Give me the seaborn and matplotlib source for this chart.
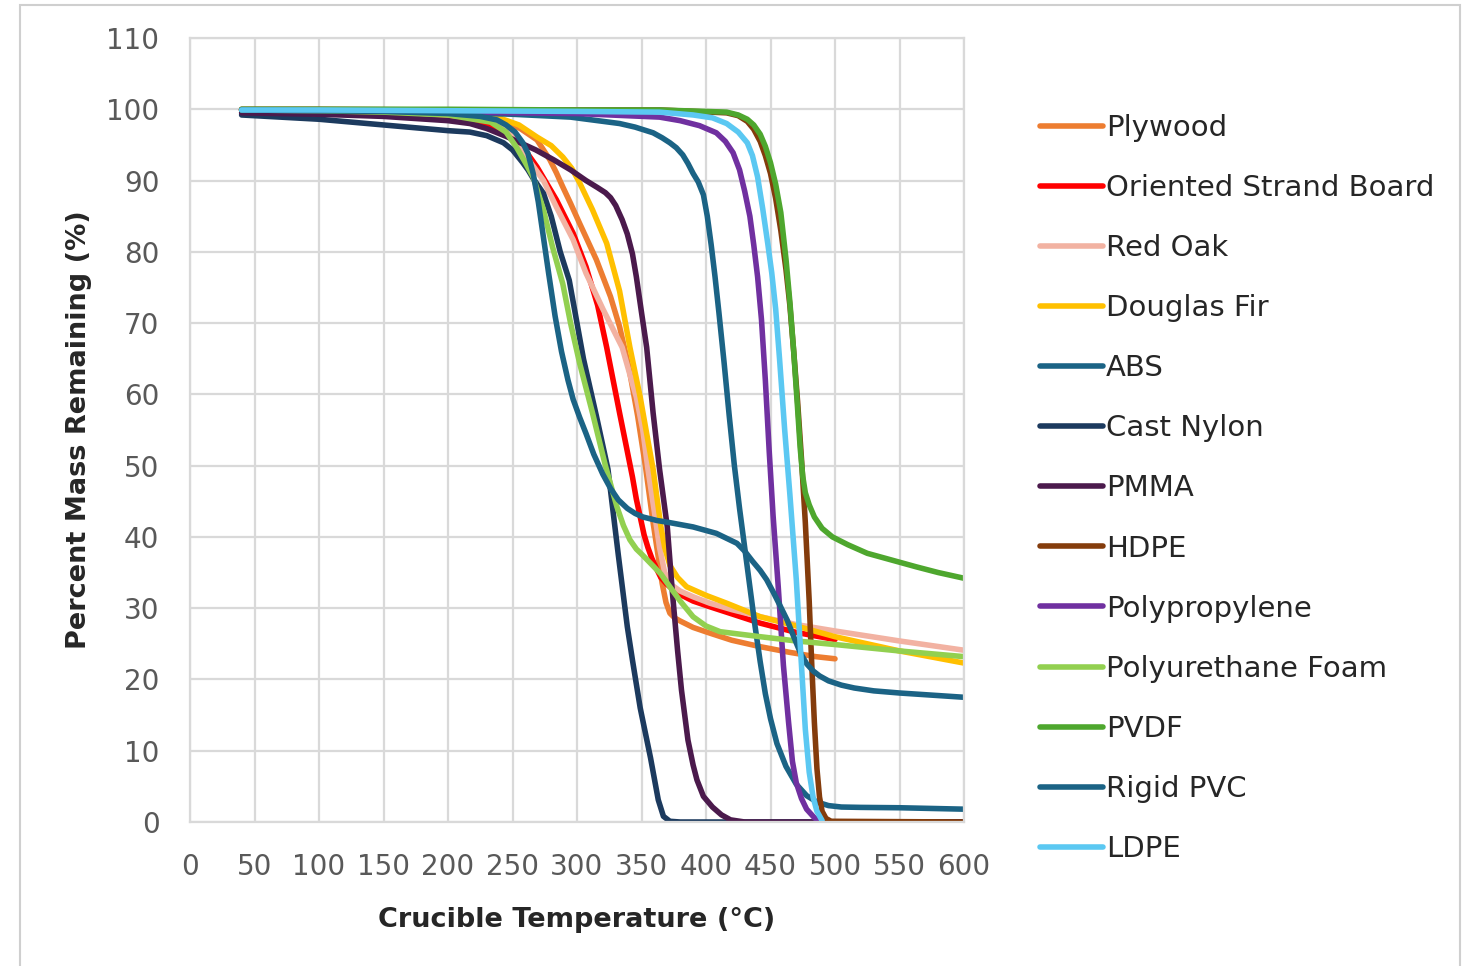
import pandas as pd
import matplotlib
matplotlib.use("Agg")
import matplotlib.pyplot as plt
import seaborn as sns
from matplotlib.patches import Rectangle

# Series names (legend order) and colours
names = ["Plywood", "Oriented Strand Board", "Red Oak", "Douglas Fir", "ABS",
         "Cast Nylon", "PMMA", "HDPE", "Polypropylene", "Polyurethane Foam",
         "PVDF", "Rigid PVC", "LDPE"]
colors = ["#ED7D31", "#FF0000", "#F2B2A2", "#FFC000", "#1B6385",
          "#1C3A5E", "#4B1A4C", "#843C0C", "#7030A0", "#92D050",
          "#4EA72E", "#1B6385", "#5BC8F2"]

# Values (temperature degC, mass remaining %)
plywood_t = [40, 100, 150, 200, 230, 243, 256, 269, 279, 284, 289, 295, 302, 315, 326, 333, 340, 347, 353, 359, 364, 366, 369, 372, 376, 380, 390, 403, 420, 442, 465, 485, 500]
plywood_v = [99.9, 99.8, 99.6, 99.2, 98.8, 98.3, 97.3, 95.7, 92.9, 91.1, 89.1, 86.8, 84.0, 78.9, 73.7, 69.5, 64.0, 57.0, 50.0, 42.0, 36.0, 33.5, 30.8, 29.3, 28.6, 28.2, 27.3, 26.5, 25.5, 24.6, 23.8, 23.2, 22.9]

osb_t = [40, 100, 150, 200, 230, 245, 258, 269, 284, 297, 307, 316, 323, 333, 343, 346, 349, 352, 355, 358, 362, 365, 370, 378, 390, 403, 420, 442, 470, 500]
osb_v = [99.9, 99.8, 99.5, 99.0, 98.0, 96.8, 94.7, 91.9, 87.3, 82.6, 77.9, 72.5, 66.6, 57.4, 48.4, 45.3, 42.8, 40.3, 38.5, 37.0, 35.4, 34.3, 33.3, 32.1, 31.0, 30.2, 29.2, 27.9, 26.6, 25.6]

oak_t = [40, 100, 150, 200, 233, 248, 261, 274, 284, 297, 307, 320, 335, 346, 351, 355, 360, 364, 368, 373, 380, 390, 403, 420, 442, 470, 500, 550, 600]
oak_v = [99.9, 99.8, 99.6, 99.2, 98.5, 96.5, 93.3, 90.0, 86.3, 81.7, 77.0, 72.0, 66.6, 59.6, 55.0, 49.5, 43.5, 38.5, 35.0, 33.3, 32.4, 31.6, 30.7, 29.8, 28.8, 27.7, 26.8, 25.4, 24.1]

fir_t = [40, 100, 150, 200, 225, 238, 255, 269, 280, 289, 296, 302, 312, 323, 333, 341, 349, 355, 359, 362, 365, 368, 372, 378, 385, 400, 416, 442, 470, 500, 550, 600]
fir_v = [99.9, 99.8, 99.7, 99.4, 99.1, 98.9, 97.8, 96.1, 94.9, 93.3, 91.7, 89.7, 85.9, 81.2, 74.5, 66.6, 59.6, 53.5, 49.5, 45.5, 41.5, 38.5, 36.0, 34.3, 33.0, 31.8, 30.7, 28.8, 27.5, 26.0, 24.0, 22.3]

abs_t = [40, 100, 150, 200, 250, 295, 333, 345, 359, 366, 372, 377, 382, 386, 390, 394, 398, 401, 404, 407, 410, 414, 418, 422, 426, 430, 434, 438, 442, 446, 450, 455, 462, 470, 478, 486, 495, 505, 520, 550, 600]
abs_v = [99.9, 99.8, 99.7, 99.6, 99.3, 98.9, 98.0, 97.5, 96.7, 96.0, 95.3, 94.6, 93.6, 92.4, 91.0, 89.8, 88.0, 85.0, 81.0, 76.5, 71.5, 64.5, 57.0, 50.0, 44.0, 38.5, 33.0, 27.5, 22.5, 18.0, 14.5, 11.0, 7.8, 5.3, 3.7, 2.8, 2.3, 2.1, 2.05, 2.0, 1.8]

nylon_t = [40, 100, 150, 200, 217, 230, 243, 250, 258, 262, 266, 274, 280, 287, 294, 305, 315, 324, 332, 339, 343, 349, 357, 363, 367, 372, 380, 600]
nylon_v = [99.2, 98.6, 97.8, 97.0, 96.8, 96.3, 95.3, 94.3, 92.5, 91.5, 90.3, 88.2, 85.0, 80.0, 76.0, 65.0, 57.0, 49.5, 37.5, 27.4, 22.7, 16.0, 9.0, 3.1, 0.8, 0.1, 0.0, 0.0]

pmma_t = [40, 100, 150, 200, 217, 230, 245, 256, 268, 282, 295, 307, 316, 322, 326, 330, 335, 339, 343, 346, 350, 354, 359, 364, 370, 374, 378, 381, 386, 390, 393, 398, 405, 412, 419, 430, 500, 600]
pmma_v = [99.5, 99.3, 99.0, 98.4, 98.0, 97.3, 96.2, 95.3, 94.3, 92.9, 91.5, 90.0, 89.0, 88.3, 87.6, 86.5, 84.5, 82.5, 79.7, 76.5, 71.5, 66.6, 57.4, 49.5, 41.4, 32.1, 24.0, 18.5, 11.5, 8.0, 5.9, 3.6, 2.1, 1.0, 0.3, 0.0, 0.0, 0.0]

hdpe_t = [40, 100, 200, 300, 364, 416, 425, 432, 437, 442, 446, 450, 454, 458, 462, 465, 468, 471, 474, 477, 480, 482, 484, 486, 488, 490, 493, 497, 600]
hdpe_v = [100.0, 100.0, 99.9, 99.9, 99.9, 99.5, 99.1, 98.3, 97.2, 95.5, 93.5, 91.0, 87.5, 83.0, 77.5, 72.5, 66.0, 59.0, 51.0, 42.0, 31.0, 22.0, 14.0, 7.5, 3.5, 1.5, 0.5, 0.1, 0.0]

pp_t = [40, 100, 200, 300, 364, 380, 395, 408, 415, 421, 426, 430, 434, 437, 440, 443, 446, 449, 452, 456, 460, 464, 467, 470, 474, 478, 484, 488]
pp_v = [99.9, 99.8, 99.6, 99.4, 98.9, 98.4, 97.7, 96.7, 95.5, 93.9, 91.5, 88.5, 85.0, 81.0, 76.5, 70.5, 62.0, 52.0, 43.0, 33.0, 22.0, 14.0, 8.5, 5.5, 3.3, 1.8, 0.6, 0.1]

puf_t = [40, 100, 150, 200, 233, 245, 253, 260, 266, 274, 281, 289, 295, 302, 312, 322, 331, 336, 341, 346, 350, 357, 365, 372, 380, 390, 400, 411, 442, 470, 500, 550, 600]
puf_v = [99.9, 99.8, 99.6, 99.2, 98.2, 96.8, 94.7, 92.5, 90.5, 85.9, 80.7, 75.5, 70.0, 64.4, 57.4, 50.0, 44.2, 41.6, 39.6, 38.3, 37.6, 36.3, 34.8, 33.0, 31.0, 28.8, 27.5, 26.7, 26.0, 25.4, 24.9, 24.0, 23.2]

pvdf_t = [40, 100, 200, 300, 364, 416, 425, 432, 437, 442, 446, 450, 454, 458, 462, 465, 468, 471, 473, 475, 477, 480, 484, 490, 498, 510, 525, 545, 563, 580, 600]
pvdf_v = [100.0, 100.0, 100.0, 99.9, 99.9, 99.6, 99.2, 98.6, 97.8, 96.5, 94.8, 92.5, 89.5, 85.5, 79.0, 73.0, 66.0, 58.0, 52.5, 48.5, 46.2, 44.5, 42.8, 41.2, 40.0, 38.9, 37.7, 36.7, 35.8, 35.0, 34.2]

pvc_t = [40, 100, 150, 200, 225, 238, 245, 252, 258, 262, 266, 270, 274, 278, 283, 288, 293, 297, 302, 307, 313, 320, 326, 332, 339, 345, 351, 362, 372, 390, 408, 424, 430, 436, 442, 447, 452, 457, 463, 468, 473, 478, 483, 488, 495, 505, 515, 530, 550, 575, 600]
pvc_v = [99.9, 99.8, 99.7, 99.4, 99.0, 98.5, 97.8, 96.8, 95.3, 93.8, 91.0, 87.0, 82.0, 77.0, 71.0, 66.0, 62.0, 59.3, 56.8, 54.5, 51.6, 48.8, 46.8, 45.2, 44.0, 43.3, 42.8, 42.3, 42.0, 41.4, 40.5, 39.1, 38.0, 36.6, 35.3, 34.0, 32.3, 30.5, 28.3, 26.0, 23.8, 22.2, 21.2, 20.5, 19.8, 19.2, 18.8, 18.4, 18.1, 17.8, 17.5]

ldpe_t = [40, 100, 200, 300, 364, 390, 405, 416, 425, 432, 436, 440, 444, 448, 451, 454, 457, 461, 465, 470, 474, 477, 480, 483, 486, 490]
ldpe_v = [99.9, 99.9, 99.8, 99.7, 99.6, 99.2, 98.8, 98.0, 96.8, 95.3, 93.5, 90.5, 86.0, 81.0, 77.0, 72.0, 65.0, 55.0, 46.0, 34.0, 22.0, 13.0, 7.0, 3.5, 1.5, 0.2]

series_t = [plywood_t, osb_t, oak_t, fir_t, abs_t, nylon_t, pmma_t, hdpe_t,
            pp_t, puf_t, pvdf_t, pvc_t, ldpe_t]
series_v = [plywood_v, osb_v, oak_v, fir_v, abs_v, nylon_v, pmma_v, hdpe_v,
            pp_v, puf_v, pvdf_v, pvc_v, ldpe_v]

frames = []
for name, t, v in zip(names, series_t, series_v):
    frames.append(pd.DataFrame({"Temperature": t, "Mass": v, "Material": name}))
df = pd.concat(frames, ignore_index=True)

sns.set_style("white")
plt.rcParams["font.family"] = ["DejaVu Sans"]

fig = plt.figure(figsize=(14.75, 9.66), dpi=100)
ax = fig.add_axes([190 / 1475, 1 - 822 / 966, 774 / 1475, 784 / 966])

sns.lineplot(data=df, x="Temperature", y="Mass", hue="Material",
             hue_order=names, palette=dict(zip(names, colors)),
             linewidth=4.0, sort=False, estimator=None, ax=ax)
for ln in ax.lines:
    ln.set_solid_joinstyle("round")
    ln.set_solid_capstyle("round")

ax.set_xlim(0, 600)
ax.set_ylim(0, 110)
ax.set_xticks(range(0, 601, 50))
ax.set_yticks(range(0, 111, 10))
ax.grid(True, color="#D9D9D9", linewidth=1.6)
ax.set_axisbelow(True)
for s in ax.spines.values():
    s.set_color("#D9D9D9")
    s.set_linewidth(1.6)
ax.tick_params(length=0, labelsize=20, labelcolor="#595959", pad=22)

ax.set_xlabel("Crucible Temperature (°C)", fontsize=19.5, fontweight="bold")
ax.set_ylabel("Percent Mass Remaining (%)", fontsize=19.5, fontweight="bold")
ax.xaxis.set_label_coords(0.5, -0.108)
ax.yaxis.set_label_coords(-0.127, 0.5)

leg = ax.legend(loc="upper left", bbox_to_anchor=(1040 / 1475, 1 - 114 / 966),
                bbox_transform=fig.transFigure, frameon=False, fontsize=21,
                handlelength=2.15, handletextpad=0.12, labelspacing=1.1,
                borderpad=0, borderaxespad=0)
for h in leg.get_lines():
    h.set_linewidth(4.0)
    h.set_solid_capstyle("round")

fig.patches.append(Rectangle((20 / 1475, -0.05), 1440 / 1475, 1.05 - 5 / 966,
                             transform=fig.transFigure, fill=False,
                             edgecolor="#CFCFCF", linewidth=1.5))

fig.savefig("out.png", dpi=100)
